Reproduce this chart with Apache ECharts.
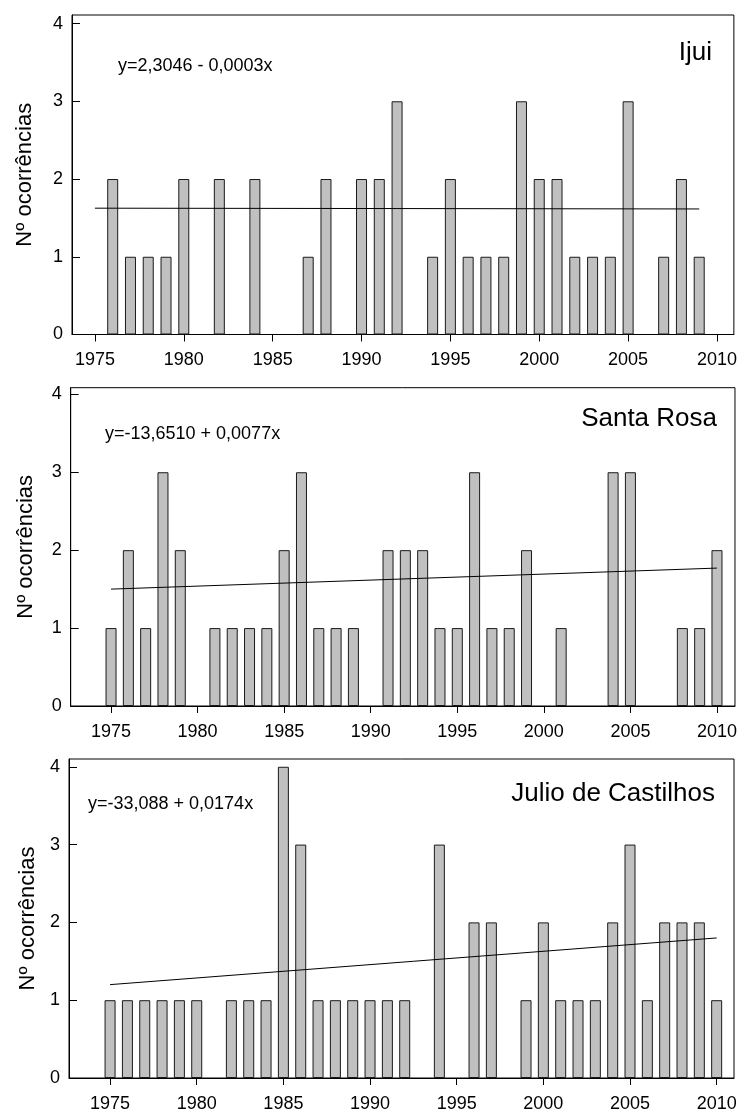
<!DOCTYPE html>
<html>
<head>
<meta charset="utf-8">
<script src="https://cdn.jsdelivr.net/npm/echarts@6/dist/echarts.min.js"></script>
<style>
html,body{margin:0;padding:0;background:#fff;}
#chart{width:740px;height:1115px;}
</style>
</head>
<body>
<div id="chart"></div>
<script>
// ---- data ----
const stationNames = ["Ijui", "Santa Rosa", "Julio de Castilhos"];
const equations = ["y=2,3046 - 0,0003x", "y=-13,6510 + 0,0077x", "y=-33,088 + 0,0174x"];
const yAxisTitle = "Nº ocorrências";

const ijuiYears = [1976,1977,1978,1979,1980,1982,1984,1987,1988,1990,1991,1992,1994,1995,1996,1997,1998,1999,2000,2001,2002,2003,2004,2005,2007,2008,2009];
const ijuiCounts = [2,1,1,1,2,2,2,1,2,2,2,3,1,2,1,1,1,3,2,2,1,1,1,3,1,2,1];

const santaRosaYears = [1975,1976,1977,1978,1979,1981,1982,1983,1984,1985,1986,1987,1988,1989,1991,1992,1993,1994,1995,1996,1997,1998,1999,2001,2004,2005,2008,2009,2010];
const santaRosaCounts = [1,2,1,3,2,1,1,1,1,2,3,1,1,1,2,2,2,1,1,3,1,1,2,1,3,3,1,1,2];

const julioYears = [1975,1976,1977,1978,1979,1980,1982,1983,1984,1985,1986,1987,1988,1989,1990,1991,1992,1994,1996,1997,1999,2000,2001,2002,2003,2004,2005,2006,2007,2008,2009,2010];
const julioCounts = [1,1,1,1,1,1,1,1,1,4,3,1,1,1,1,1,1,3,2,2,1,2,1,1,1,2,3,1,2,2,2,1];

// trend line end points (as drawn)
const ijuiTrendYears = [1975, 2009];
const ijuiTrendValues = [1.625, 1.615];
const santaRosaTrendYears = [1975, 2010];
const santaRosaTrendValues = [1.50, 1.77];
const julioTrendYears = [1975, 2010];
const julioTrendValues = [1.20, 1.80];

const xTickValues = [1975, 1980, 1985, 1990, 1995, 2000, 2005, 2010];
const yTickValues = [0, 1, 2, 3, 4];

// ---- layout ----
const panels = [
  {years: ijuiYears, counts: ijuiCounts, ty: ijuiTrendYears, tv: ijuiTrendValues,
   grid: {left: 72, top: 15, width: 664, height: 319.5}, xMin: 1973.71, xMax: 2010.95, yMax: 4.11,
   nameGap: 36, stTop: 35, stRight: 23, eqLeft: 113, eqTop: 52},
  {years: santaRosaYears, counts: santaRosaCounts, ty: santaRosaTrendYears, tv: santaRosaTrendValues,
   grid: {left: 70.7, top: 387.7, width: 665, height: 318.3}, xMin: 1972.67, xMax: 2011.04, yMax: 4.085,
   nameGap: 34, stTop: 401, stRight: 18, eqLeft: 100, eqTop: 420},
  {years: julioYears, counts: julioCounts, ty: julioTrendYears, tv: julioTrendValues,
   grid: {left: 69, top: 759, width: 665, height: 319}, xMin: 1972.63, xMax: 2011.0, yMax: 4.1,
   nameGap: 30, stTop: 776, stRight: 20, eqLeft: 83, eqTop: 790}
];

const FONT = "'Liberation Sans', Arial, Helvetica, sans-serif";
const option = {
  animation: false,
  backgroundColor: '#fff',
  title: [], grid: [], xAxis: [], yAxis: [], series: []
};

panels.forEach((p, i) => {
  option.grid.push(Object.assign({show: true, borderColor: '#000', borderWidth: 1, containLabel: false}, p.grid));
  option.title.push({text: stationNames[i], right: p.stRight, top: p.stTop,
    textStyle: {fontFamily: FONT, fontSize: 26, fontWeight: 'normal', color: '#000'}});
  option.title.push({text: equations[i], left: p.eqLeft, top: p.eqTop,
    textStyle: {fontFamily: FONT, fontSize: 18, fontWeight: 'normal', color: '#000'}});
  option.xAxis.push({
    type: 'value', gridIndex: i, min: p.xMin, max: p.xMax,
    axisLine: {show: true, onZero: false, lineStyle: {color: '#000', width: 1}},
    axisTick: {show: true, inside: false, length: 7, lineStyle: {color: '#000'}, customValues: xTickValues},
    axisLabel: {show: true, margin: 17, fontFamily: FONT, fontSize: 18, color: '#000', customValues: xTickValues,
      formatter: v => String(v)},
    splitLine: {show: false}
  });
  option.yAxis.push({
    type: 'value', gridIndex: i, min: 0, max: p.yMax,
    name: yAxisTitle, nameLocation: 'middle', nameGap: p.nameGap, nameRotate: 90,
    nameTextStyle: {fontFamily: FONT, fontSize: 22, color: '#000'},
    axisLine: {show: true, lineStyle: {color: '#000', width: 1}},
    axisTick: {show: true, inside: true, length: 8, lineStyle: {color: '#000'}, customValues: yTickValues},
    axisLabel: {show: true, margin: 9, fontFamily: FONT, fontSize: 18, color: '#000', customValues: yTickValues,
      formatter: v => String(v)},
    splitLine: {show: false}
  });
  option.series.push({
    type: 'bar', xAxisIndex: i, yAxisIndex: i, barWidth: 11,
    itemStyle: {color: '#c0c0c0', borderColor: '#1a1a1a', borderWidth: 1},
    data: p.years.map((y, k) => [y, p.counts[k]]),
    z: 2
  });
  option.series.push({
    type: 'line', xAxisIndex: i, yAxisIndex: i, symbol: 'none',
    lineStyle: {color: '#000', width: 1},
    data: p.ty.map((y, k) => [y, p.tv[k]]),
    z: 3
  });
});

const chart = echarts.init(document.getElementById('chart'), null, {renderer: 'canvas'});
chart.setOption(option);
</script>
</body>
</html>
